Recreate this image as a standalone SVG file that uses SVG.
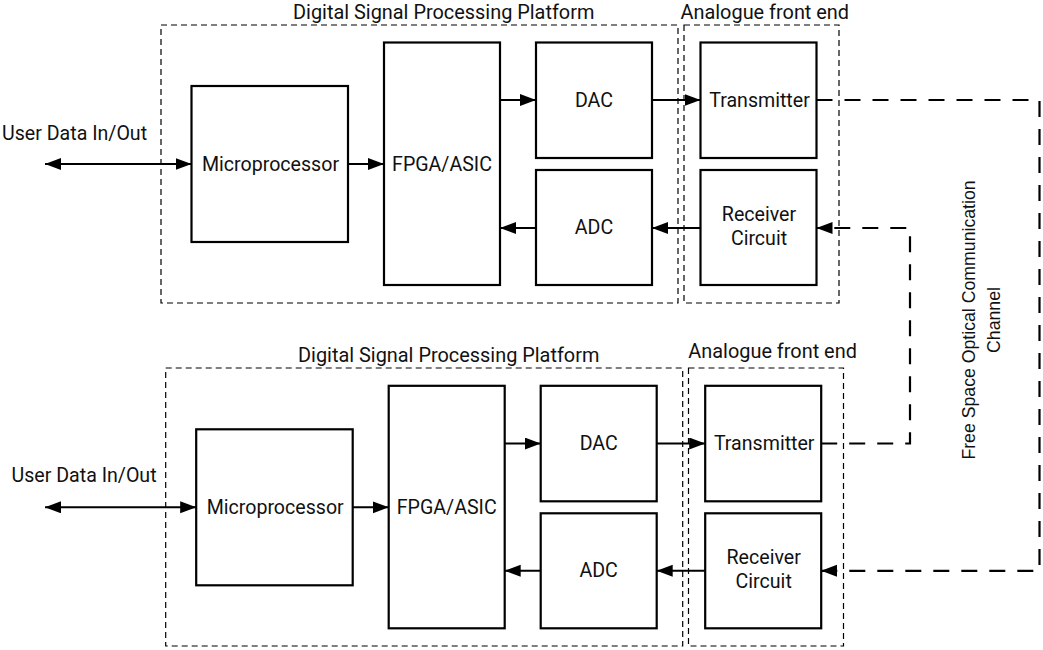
<svg xmlns="http://www.w3.org/2000/svg" width="1043" height="650" viewBox="0 0 1043 650">
<defs>
<marker id="ah" markerUnits="userSpaceOnUse" markerWidth="17" markerHeight="13" refX="16" refY="6" orient="auto-start-reverse">
<path d="M0,0 L16,6 L0,12 Z" fill="#000"/>
</marker>
</defs>
<style>
.grp{fill:none;stroke:#000;stroke-width:1.2;stroke-dasharray:6 4}
.box{fill:#fff;stroke:#000;stroke-width:2.2}
.lbl{font-family:Roboto,"Liberation Sans",sans-serif;font-size:19.6px;fill:#111}
.ttl{font-family:Roboto,"Liberation Sans",sans-serif;font-size:19.9px;fill:#111}
.mid{text-anchor:middle}
.ln{fill:none;stroke:#000;stroke-width:2}
.ch{fill:none;stroke:#000;stroke-width:2.2;stroke-dasharray:16 12}
.vt{font-family:"Liberation Sans",Arial,sans-serif;font-size:17.7px;fill:#111;text-anchor:middle}
</style>
<rect width="1043" height="650" fill="#fff"/>

<!-- Top system -->
<g id="dsp1">
<rect class="grp" x="161" y="25" width="517" height="278"/>
<text class="ttl" x="293" y="18.5">Digital Signal Processing Platform</text>
</g>
<g id="afe1">
<rect class="grp" x="684" y="25" width="155" height="278"/>
<text class="ttl" x="680.5" y="18.5">Analogue front end</text>
</g>
<g id="user1"><text class="lbl" x="2" y="140">User Data In/Out</text></g>
<g id="micro1"><rect class="box" x="191.5" y="86" width="156.5" height="156"/><text class="lbl mid" x="270.5" y="170.5">Microprocessor</text></g>
<g id="fpga1"><rect class="box" x="384" y="42.5" width="116" height="242.5"/><text class="lbl mid" x="442" y="170.5">FPGA/ASIC</text></g>
<g id="dac1"><rect class="box" x="536" y="42.5" width="116" height="115.5"/><text class="lbl mid" x="594" y="107">DAC</text></g>
<g id="adc1"><rect class="box" x="536" y="170" width="116" height="115"/><text class="lbl mid" x="594" y="234">ADC</text></g>
<g id="tx1"><rect class="box" x="700.5" y="42.5" width="116" height="115.5"/><text class="lbl mid" x="759.5" y="107">Transmitter</text></g>
<g id="rx1"><rect class="box" x="700.5" y="170" width="116" height="115"/><text class="lbl mid" x="759" y="221">Receiver</text><text class="lbl mid" x="759" y="245">Circuit</text></g>

<!-- Bottom system -->
<g id="dsp2">
<rect class="grp" x="165.7" y="368" width="517" height="278"/>
<text class="ttl" x="298" y="362.3">Digital Signal Processing Platform</text>
</g>
<g id="afe2">
<rect class="grp" x="688.5" y="368" width="155" height="278"/>
<text class="ttl" x="688.3" y="357.5">Analogue front end</text>
</g>
<g id="user2"><text class="lbl" x="11.5" y="481.7">User Data In/Out</text></g>
<g id="micro2"><rect class="box" x="196.2" y="429.3" width="156.5" height="156"/><text class="lbl mid" x="275.2" y="513.8">Microprocessor</text></g>
<g id="fpga2"><rect class="box" x="388.7" y="385.8" width="116" height="242.5"/><text class="lbl mid" x="446.7" y="513.8">FPGA/ASIC</text></g>
<g id="dac2"><rect class="box" x="540.7" y="385.8" width="116" height="115.5"/><text class="lbl mid" x="598.7" y="450.3">DAC</text></g>
<g id="adc2"><rect class="box" x="540.7" y="513.3" width="116" height="115"/><text class="lbl mid" x="598.7" y="577.3">ADC</text></g>
<g id="tx2"><rect class="box" x="705.2" y="385.8" width="116" height="115.5"/><text class="lbl mid" x="764.2" y="450.3">Transmitter</text></g>
<g id="rx2"><rect class="box" x="705.2" y="513.3" width="116" height="115"/><text class="lbl mid" x="763.7" y="564.3">Receiver</text><text class="lbl mid" x="763.7" y="588.3">Circuit</text></g>

<g id="channel-label">
<text class="vt" transform="translate(975,320) rotate(-90)">Free Space Optical Communication</text>
<text class="vt" transform="translate(999.5,320) rotate(-90)">Channel</text>
</g>

<g id="connectors">
<!-- top -->
<line class="ln" x1="45" y1="164" x2="191.5" y2="164" marker-start="url(#ah)" marker-end="url(#ah)"/>
<line class="ln" x1="348" y1="164" x2="384" y2="164" marker-end="url(#ah)"/>
<line class="ln" x1="500" y1="100" x2="536" y2="100" marker-end="url(#ah)"/>
<line class="ln" x1="652" y1="100" x2="700.5" y2="100" marker-end="url(#ah)"/>
<line class="ln" x1="700.5" y1="228" x2="652" y2="228" marker-end="url(#ah)"/>
<line class="ln" x1="536" y1="228" x2="500" y2="228" marker-end="url(#ah)"/>
<!-- bottom -->
<line class="ln" x1="45" y1="507.3" x2="196.2" y2="507.3" marker-start="url(#ah)" marker-end="url(#ah)"/>
<line class="ln" x1="352.7" y1="507.3" x2="388.7" y2="507.3" marker-end="url(#ah)"/>
<line class="ln" x1="504.7" y1="443.5" x2="540.7" y2="443.5" marker-end="url(#ah)"/>
<line class="ln" x1="656.7" y1="443.5" x2="705.2" y2="443.5" marker-end="url(#ah)"/>
<line class="ln" x1="705.2" y1="570.8" x2="656.7" y2="570.8" marker-end="url(#ah)"/>
<line class="ln" x1="540.7" y1="570.8" x2="504.7" y2="570.8" marker-end="url(#ah)"/>
<!-- optical channel -->
<path class="ch" d="M816.5,100 H1039.5 V570.8 H821.2" marker-end="url(#ah)"/>
<path class="ch" d="M821.2,443.5 H910 V228 H816.5" marker-end="url(#ah)"/>
</g>
</svg>
